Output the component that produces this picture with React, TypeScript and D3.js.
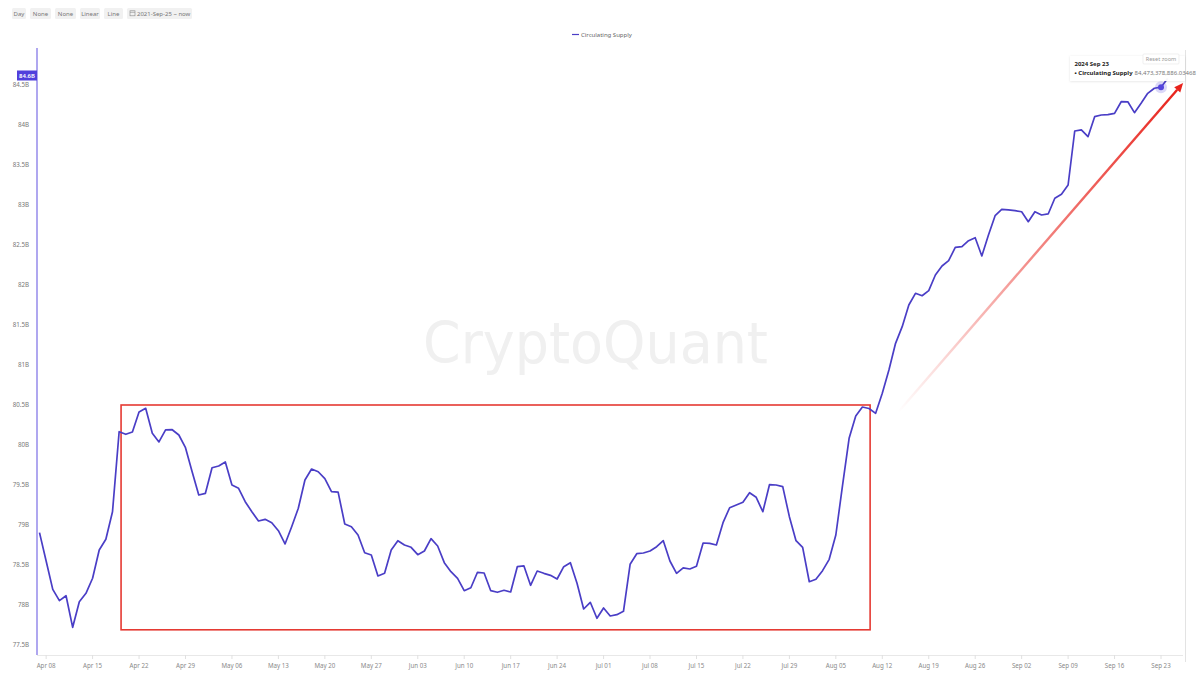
import React from 'react';
import * as d3 from 'd3';

// ---------- data ----------
const START_DATE = '2024-04-07T00:00:00Z';
const seriesName = 'Circulating Supply';
// circulating supply, billions, one value per day from START_DATE
const supplyB = [
  78.904, 78.55, 78.196, 78.054, 78.116, 77.721, 78.041, 78.146, 78.334, 78.688,
  78.821, 79.166, 80.166, 80.134, 80.163, 80.413, 80.459, 80.146, 80.038, 80.188,
  80.191, 80.125, 79.966, 79.666, 79.375, 79.396, 79.716, 79.738, 79.788, 79.5,
  79.459, 79.291, 79.166, 79.05, 79.071, 79.029, 78.929, 78.763, 78.979, 79.209,
  79.563, 79.7, 79.666, 79.579, 79.416, 79.41, 79.013, 78.979, 78.875, 78.654,
  78.625, 78.363, 78.396, 78.688, 78.804, 78.75, 78.721, 78.629, 78.675, 78.829,
  78.738, 78.529, 78.416, 78.334, 78.179, 78.216, 78.409, 78.4, 78.179, 78.159,
  78.184, 78.163, 78.479, 78.488, 78.246, 78.425, 78.396, 78.371, 78.325, 78.479,
  78.529, 78.271, 77.95, 78.034, 77.834, 77.963, 77.863, 77.879, 77.921, 78.509,
  78.641, 78.65, 78.675, 78.729, 78.804, 78.55, 78.396, 78.463, 78.45, 78.484,
  78.775, 78.77, 78.75, 79.029, 79.216, 79.25, 79.284, 79.404, 79.346, 79.166,
  79.504, 79.5, 79.479, 79.104, 78.804, 78.721, 78.291, 78.321, 78.429, 78.571,
  78.875, 79.488, 80.084, 80.363, 80.475, 80.456, 80.396, 80.646, 80.938, 81.271,
  81.479, 81.75, 81.896, 81.866, 81.929, 82.125, 82.238, 82.304, 82.471, 82.479,
  82.554, 82.591, 82.363, 82.625, 82.866, 82.946, 82.938, 82.929, 82.916, 82.791,
  82.916, 82.875, 82.888, 83.084, 83.134, 83.25, 83.925, 83.938, 83.854, 84.104,
  84.125, 84.13, 84.146, 84.291, 84.29, 84.154, 84.271, 84.396, 84.459, 84.473,
  84.58,
];
const yTicks = [77.5, 78, 78.5, 79, 79.5, 80, 80.5, 81, 81.5, 82, 82.5, 83, 83.5, 84, 84.5];
const xTickRange = ['2024-04-08T00:00:00Z', '2024-09-24T00:00:00Z'];
const toolbarLabels = ['Day', 'None', 'None', 'Linear', 'Line', '2021-Sep-25 ~ now'];
const tooltipIndex = 169;
const tooltipDate = '2024 Sep 23';
const tooltipValue = '84,473,378,886.03468';
const badgeText = '84.6B';
const badgeValue = 84.6;
const watermark = 'CryptoQuant';
// annotations
const boxDates = ['2024-04-19T07:00:00Z', '2024-08-10T04:00:00Z'];
const boxValues = [77.69, 80.5];
const arrowDates = ['2024-08-14T09:00:00Z', '2024-09-26T08:00:00Z'];
const arrowValues = [80.41, 84.525];

// ---------- layout ----------
const W = 1200;
const H = 675;
const PLOT = { left: 37, right: 1183, top: 48, bottom: 655 };
const toolbarWidths = [14, 21, 21, 20, 19, 65];
const LINE_COLOR = '#4a3ec6';
const FONT = '"Noto Sans", "Open Sans", sans-serif';

const DAY = 86400000;

export default function App() {
  const start = new Date(START_DATE).getTime();
  const data = supplyB.map((v, i) => ({ date: new Date(start + i * DAY), v }));

  const x = d3
    .scaleUtc()
    .domain([new Date('2024-04-07T00:00:00Z'), new Date('2024-09-23T00:00:00Z')])
    .range([39.5, 1161]);
  const y = d3.scaleLinear().domain([77.5, 84.5]).range([645, 85]);

  const line = d3
    .line<{ date: Date; v: number }>()
    .x((d) => x(d.date))
    .y((d) => y(d.v));

  const xTicks = d3.utcMonday.range(new Date(xTickRange[0]), new Date(xTickRange[1]));
  const fmt = d3.utcFormat('%b %d');
  const yFmt = (v: number) => `${v}B`;

  // toolbar positions
  let tx = 12;
  const toolbar = toolbarLabels.map((label, i) => {
    const item = { label, x: tx, w: toolbarWidths[i] };
    tx += toolbarWidths[i] + 4;
    return item;
  });

  const hover = data[tooltipIndex];
  const hx = x(hover.date);
  const hy = y(hover.v);
  const badgeY = y(badgeValue) - 1.5;

  const bx0 = x(new Date(boxDates[0]));
  const bx1 = x(new Date(boxDates[1]));
  const by0 = y(boxValues[1]);
  const by1 = y(boxValues[0]);

  const ax0 = x(new Date(arrowDates[0]));
  const ax1 = x(new Date(arrowDates[1]));
  const ay0 = y(arrowValues[0]);
  const ay1 = y(arrowValues[1]);
  const ang = Math.atan2(ay1 - ay0, ax1 - ax0);
  const headLen = 9;
  const headW = 4;
  const baseX = ax1 - headLen * Math.cos(ang);
  const baseY = ay1 - headLen * Math.sin(ang);
  const head = [
    [ax1, ay1],
    [baseX + headW * Math.sin(ang), baseY - headW * Math.cos(ang)],
    [baseX - headW * Math.sin(ang), baseY + headW * Math.cos(ang)],
  ]
    .map((p) => p.join(','))
    .join(' ');

  return (
    <svg
      width={W}
      height={H}
      style={{ position: 'absolute', left: 0, top: 0, background: '#fff' }}
      fontFamily={FONT}
    >
      <defs>
        <linearGradient
          id="arrowGrad"
          gradientUnits="userSpaceOnUse"
          x1={ax0}
          y1={ay0}
          x2={baseX}
          y2={baseY}
        >
          <stop offset="0" stopColor="#e8231c" stopOpacity={0} />
          <stop offset="0.45" stopColor="#e8231c" stopOpacity={0.5} />
          <stop offset="1" stopColor="#e8231c" stopOpacity={1} />
        </linearGradient>
        <filter id="shadow" x="-10%" y="-20%" width="120%" height="150%">
          <feDropShadow dx="0" dy="0.5" stdDeviation="1" floodColor="#000" floodOpacity="0.12" />
        </filter>
      </defs>

      {/* toolbar */}
      {toolbar.map((b, i) => (
        <g key={i}>
          <rect x={b.x} y={8} width={b.w} height={11} rx={1.5} fill="#f1f1f1" />
          {i === toolbar.length - 1 ? (
            <g>
              <rect x={b.x + 3} y={10.8} width={5} height={5} fill="none" stroke="#888" strokeWidth={0.6} />
              <line x1={b.x + 3} y1={12.3} x2={b.x + 8} y2={12.3} stroke="#888" strokeWidth={0.6} />
              <text x={b.x + 10} y={15.8} fontSize={6} fill="#777">
                {b.label}
              </text>
            </g>
          ) : (
            <text x={b.x + b.w / 2} y={15.8} fontSize={6} fill="#777" textAnchor="middle">
              {b.label}
            </text>
          )}
        </g>
      ))}

      {/* legend */}
      <line x1={572} y1={34.5} x2={579} y2={34.5} stroke={LINE_COLOR} strokeWidth={1.2} />
      <text x={581} y={36.5} fontSize={6} fill="#666">
        {seriesName}
      </text>

      {/* watermark */}
      <text
        x={423}
        y={363}
        fontSize={57}
        fill="#f0f0f0"
        fontFamily='"DejaVu Sans", sans-serif'
        textLength={345}
        lengthAdjust="spacingAndGlyphs"
      >
        {watermark}
      </text>

      {/* right border */}
      <line x1={1185.5} y1={50} x2={1185.5} y2={662} stroke="#e3e3e3" strokeWidth={1} />

      {/* x axis */}
      <line x1={PLOT.left} y1={PLOT.bottom + 0.5} x2={PLOT.right} y2={PLOT.bottom + 0.5} stroke="#e8e8e8" />
      {xTicks.map((t, i) => (
        <g key={i}>
          <line x1={x(t)} x2={x(t)} y1={PLOT.bottom} y2={PLOT.bottom + 4} stroke="#e0e0e0" />
          <text x={x(t)} y={668} fontSize={6.2} fill="#8a8a8a" textAnchor="middle">
            {fmt(t)}
          </text>
        </g>
      ))}

      {/* y axis */}
      {yTicks.map((v, i) => (
        <text key={i} x={29} y={y(v) + 2.4} fontSize={6.2} fill="#777" textAnchor="end">
          {yFmt(v)}
        </text>
      ))}
      <line x1={PLOT.left} y1={PLOT.top} x2={PLOT.left} y2={PLOT.bottom} stroke="#9b91ec" strokeWidth={1.6} />

      {/* box annotation */}
      <rect
        x={bx0}
        y={by0}
        width={bx1 - bx0}
        height={by1 - by0}
        fill="none"
        stroke="#e53a33"
        strokeWidth={1.6}
      />

      {/* series */}
      <path d={line(data) || ''} fill="none" stroke={LINE_COLOR} strokeWidth={1.7} strokeLinejoin="round" />

      {/* arrow annotation */}
      <line x1={ax0} y1={ay0} x2={baseX} y2={baseY} stroke="url(#arrowGrad)" strokeWidth={2.4} />
      <polygon points={head} fill="#e8231c" />

      {/* hover marker */}
      <circle cx={hx} cy={hy} r={6} fill="#5b4de0" fillOpacity={0.22} />
      <circle cx={hx} cy={hy} r={3} fill="#5546dc" />

      {/* last value badge */}
      <rect x={17} y={badgeY - 5} width={20} height={10} fill="#5140dc" />
      <text x={27} y={badgeY + 2.1} fontSize={6} fill="#fff" textAnchor="middle" fontWeight={600}>
        {badgeText}
      </text>

      {/* tooltip */}
      <g filter="url(#shadow)">
        <rect x={1070} y={56} width={115} height={25} fill="#fff" fillOpacity={0.95} />
      </g>
      <text x={1074.5} y={65.5} fontSize={6} fontWeight={700} fill="#222">
        {tooltipDate}
      </text>
      <text x={1074.5} y={74.5} fontSize={6} fill="#222">
        <tspan fontWeight={700}>{'• ' + seriesName}</tspan>
        <tspan fill="#777" dx={2}>
          {tooltipValue}
        </tspan>
      </text>

      {/* reset zoom */}
      <rect x={1143} y={54} width={36} height={10} fill="#fff" stroke="#e6e6e6" strokeWidth={0.6} rx={1} />
      <text x={1161} y={61.3} fontSize={5.6} fill="#999" textAnchor="middle">
        Reset zoom
      </text>
    </svg>
  );
}
